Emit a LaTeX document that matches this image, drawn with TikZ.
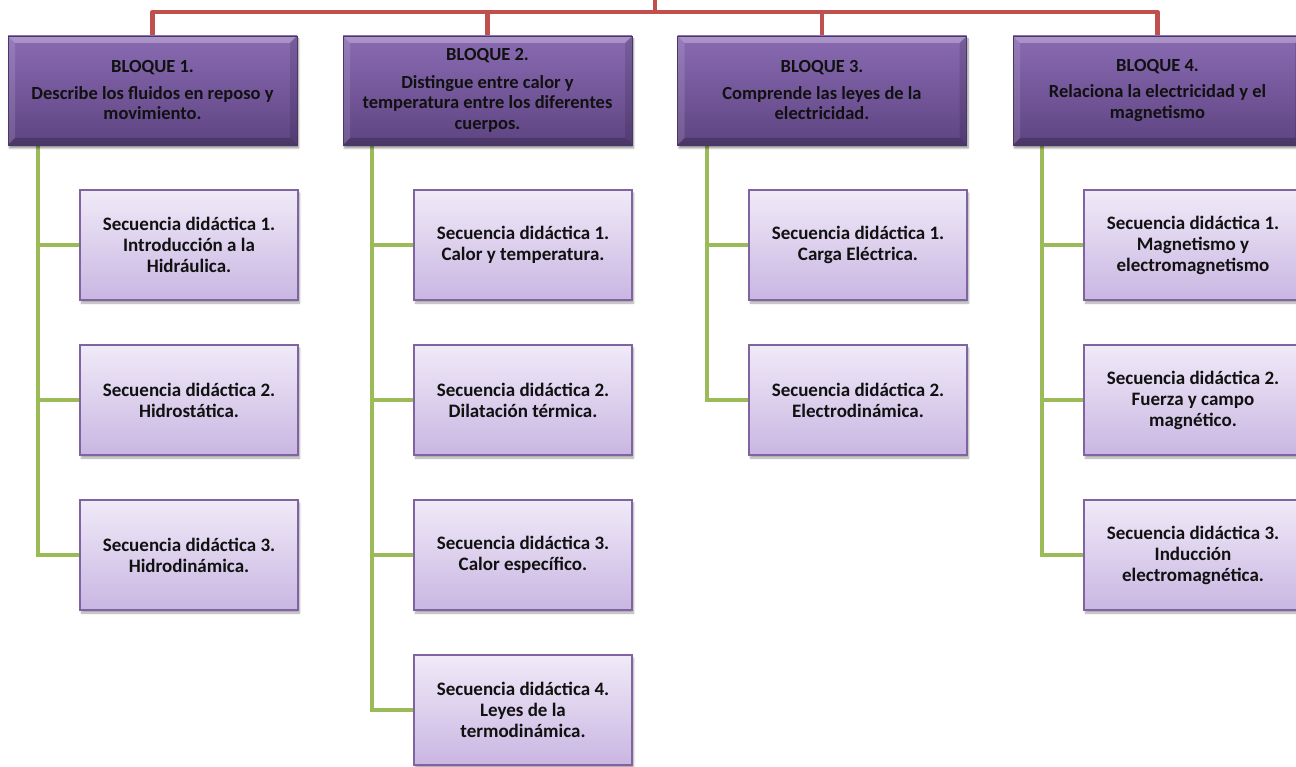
\documentclass[tikz,border=0pt]{standalone}
\usepackage{fontspec}
\setmainfont{Carlito}
\usetikzlibrary{shadows.blur,backgrounds}
\definecolor{hdtop}{HTML}{8A6BB3}
\definecolor{hdbot}{HTML}{5E4482}
\definecolor{chtop}{HTML}{F0EAF8}
\definecolor{chbot}{HTML}{C9B6E2}
\definecolor{chborder}{HTML}{8064A2}
\definecolor{busred}{HTML}{C0504D}
\definecolor{trunkgreen}{HTML}{9BBB59}
\definecolor{txt}{HTML}{111111}
\tikzset{
  header/.style={rectangle, minimum width=289pt, minimum height=109pt, inner sep=0pt,
    top color=hdtop, bottom color=hdbot, draw=hdbot!80!black, line width=0.6pt,
    blur shadow={shadow xshift=1.5pt, shadow yshift=-3pt, shadow blur steps=6, shadow opacity=45},
    text=txt, align=center, font=\fontsize{18.5}{20.5}\selectfont\bfseries,
    path picture={
      \fill[white,opacity=0.28] (path picture bounding box.north west) -- (path picture bounding box.north east)
        -- ([xshift=-7pt,yshift=-7pt]path picture bounding box.north east) -- ([xshift=7pt,yshift=-7pt]path picture bounding box.north west) -- cycle;
      \fill[white,opacity=0.12] (path picture bounding box.north west) -- ([xshift=7pt,yshift=-7pt]path picture bounding box.north west)
        -- ([xshift=7pt,yshift=7pt]path picture bounding box.south west) -- (path picture bounding box.south west) -- cycle;
      \fill[black,opacity=0.2] (path picture bounding box.south west) -- (path picture bounding box.south east)
        -- ([xshift=-7pt,yshift=7pt]path picture bounding box.south east) -- ([xshift=7pt,yshift=7pt]path picture bounding box.south west) -- cycle;
      \fill[black,opacity=0.12] (path picture bounding box.north east) -- ([xshift=-7pt,yshift=-7pt]path picture bounding box.north east)
        -- ([xshift=-7pt,yshift=7pt]path picture bounding box.south east) -- (path picture bounding box.south east) -- cycle;
    }},
  child/.style={rectangle, minimum width=218pt, minimum height=110pt, inner sep=0pt,
    top color=chtop, bottom color=chbot, draw=chborder, line width=1.6pt,
    blur shadow={shadow xshift=1.5pt, shadow yshift=-3pt, shadow blur steps=6, shadow opacity=35},
    text=txt, align=center, font=\fontsize{19}{21}\selectfont\bfseries},
  busline/.style={draw=busred, line width=4.5pt},
  trunkline/.style={draw=trunkgreen, line width=4.5pt}
}
\begin{document}
\begin{tikzpicture}[x=1pt,y=-1pt]
\useasboundingbox (0,0) rectangle (1296,767);
% headers
\node[header] (b1) at (152.5,90.5) {BLOQUE 1.\\[6pt]Describe los fluidos en reposo y\\movimiento.};
\node[header] (b2) at (487.5,90.5) {BLOQUE 2.\\[7pt]Distingue entre calor y\\temperatura entre los diferentes\\cuerpos.};
\node[header] (b3) at (822,90.5) {BLOQUE 3.\\[6pt]Comprende las leyes de la\\electricidad.};
\node[header] (b4) at (1157.5,90.5) {BLOQUE 4.\\[6pt]Relaciona la electricidad y el\\magnetismo};
% children
\node[child] (c11) at (189,245) {Secuencia didáctica 1.\\Introducción a la\\Hidráulica.};
\node[child] (c12) at (189,400) {Secuencia didáctica 2.\\Hidrostática.};
\node[child] (c13) at (189,555) {Secuencia didáctica 3.\\Hidrodinámica.};
\node[child] (c21) at (523,245) {Secuencia didáctica 1.\\Calor y temperatura.};
\node[child] (c22) at (523,400) {Secuencia didáctica 2.\\Dilatación térmica.};
\node[child] (c23) at (523,555) {Secuencia didáctica 3.\\Calor específico.};
\node[child] (c24) at (523,710) {Secuencia didáctica 4.\\Leyes de la\\termodinámica.};
\node[child] (c31) at (858,245) {Secuencia didáctica 1.\\Carga Eléctrica.};
\node[child] (c32) at (858,400) {Secuencia didáctica 2.\\Electrodinámica.};
\node[child] (c41) at (1193,245) {Secuencia didáctica 1.\\Magnetismo y\\electromagnetismo};
\node[child] (c42) at (1193,400) {Secuencia didáctica 2.\\Fuerza y campo\\magnético.};
\node[child] (c43) at (1193,555) {Secuencia didáctica 3.\\Inducción\\electromagnética.};
\coordinate (top) at (655,0);
\coordinate (bus) at (655,12);
\coordinate (t1) at (38,145.5);
\coordinate (t2) at (372,145.5);
\coordinate (t3) at (707,145.5);
\coordinate (t4) at (1042,145.5);
\begin{scope}[on background layer]
% red bus
\draw[busline] (top) -- (bus);
\draw[busline, line join=round] (b1.north) |- (bus);
\draw[busline, line join=round] (b4.north) |- (bus);
\draw[busline] (b2.north) -- (b2.north |- bus);
\draw[busline] (b3.north) -- (b3.north |- bus);
% green trunks
\draw[trunkline] (t1) |- (c13.west);
\draw[trunkline] (t1 |- c11.west) -- (c11.west);
\draw[trunkline] (t1 |- c12.west) -- (c12.west);
\draw[trunkline] (t2) |- (c24.west);
\draw[trunkline] (t2 |- c21.west) -- (c21.west);
\draw[trunkline] (t2 |- c22.west) -- (c22.west);
\draw[trunkline] (t2 |- c23.west) -- (c23.west);
\draw[trunkline] (t3) |- (c32.west);
\draw[trunkline] (t3 |- c31.west) -- (c31.west);
\draw[trunkline] (t4) |- (c43.west);
\draw[trunkline] (t4 |- c41.west) -- (c41.west);
\draw[trunkline] (t4 |- c42.west) -- (c42.west);
\end{scope}
\end{tikzpicture}
\end{document}
